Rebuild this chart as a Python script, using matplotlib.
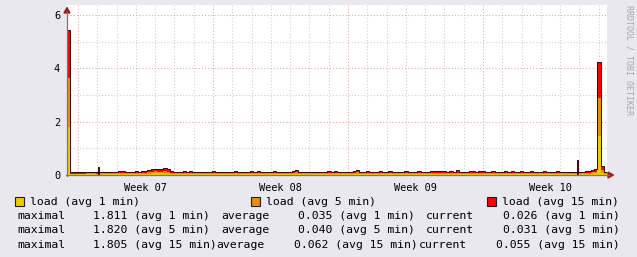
import numpy as np
import matplotlib
matplotlib.use('Agg')
import matplotlib.pyplot as plt
from matplotlib.patches import Polygon, Rectangle
from matplotlib.lines import Line2D

# ---------------- data (values in 1/100 load units, 4-hour samples) ----------------
start_day = -0.57          # first sample, in days relative to start of Week 07
step_hours = 4
load_1min = [181.1,2,2,2,2,2,3,3,3,2,
             3,3,3,3,3,3,4,4,3,3,
             3,4,3,4,4,5,6,7,6,6,
             7,6,4,3,3,3,3,3,4,3,
             3,3,3,3,3,3,3,3,3,3,
             3,3,4,3,3,3,3,4,3,4,
             3,3,3,3,4,3,3,3,3,3,
             4,5,3,3,3,3,3,3,3,3,
             3,4,3,4,3,3,3,3,3,4,
             5,3,3,4,3,3,3,4,3,3,
             4,3,3,3,3,4,3,3,3,4,
             3,3,3,4,3,4,3,4,3,4,
             3,4,3,3,3,4,4,3,3,4,
             3,3,4,3,3,3,4,3,4,3,
             3,4,3,3,4,3,3,3,4,3,
             3,3,4,3,3,3,3,3,3,3,
             3,4,4,5,6,145,9,3]
load_5min = [182.0,3,3,3,3,3,3,3,4,3,
             3,4,4,4,3,3,4,4,3,4,
             4,4,3,4,5,6,7,7,7,7,
             8,7,5,4,4,4,4,4,4,4,
             4,3,4,4,4,4,4,4,3,4,
             3,3,4,4,3,4,4,4,3,5,
             4,3,3,3,4,3,3,4,3,3,
             5,5,4,3,3,3,3,4,3,3,
             3,4,3,4,4,3,3,3,3,4,
             6,4,3,5,3,3,3,4,3,4,
             5,3,3,3,4,5,3,4,3,4,
             3,3,4,4,4,4,4,5,4,4,
             4,5,4,3,4,4,5,4,4,4,
             4,3,4,4,3,3,4,3,5,4,
             3,4,4,3,4,4,3,4,4,4,
             3,4,4,3,4,3,4,3,4,3,
             4,4,5,5,7,142,11,3]
load_15min = [180.5,5,5,5,5,5,5,5,6,5,
              5,6,6,6,6,6,6,6,5,6,
              6,7,6,6,7,8,9,10,10,9,
              11,10,7,6,6,6,7,6,6,6,
              6,6,6,6,6,7,6,6,5,6,
              6,6,6,6,5,6,6,7,6,7,
              6,5,5,5,6,6,6,5,5,6,
              7,8,6,5,5,5,6,6,5,5,
              5,6,5,7,6,5,5,6,5,7,
              9,6,5,7,5,5,5,7,5,6,
              7,5,5,5,6,7,5,6,5,6,
              5,6,6,6,7,6,7,7,6,7,
              6,8,6,6,6,7,7,6,7,6,
              6,6,7,6,5,6,6,5,7,6,
              6,7,6,5,6,6,5,6,7,6,
              5,6,6,6,6,5,6,6,6,5,
              6,6,7,8,10,136,13,6]
peak_days = [1.09, 25.93]
peak_values = [0.30, 0.56]

week_labels = ['Week 07', 'Week 08', 'Week 09', 'Week 10']
series_names = ['load (avg 1 min)', 'load (avg 5 min)', 'load (avg 15 min)']
maximal = ['1.811', '1.820', '1.805']
average = ['0.035', '0.040', '0.062']
current = ['0.026', '0.031', '0.055']
avg_labels = ['(avg 1 min)', '(avg 5 min)', '(avg 15 min)']

# ---------------- styles ----------------
BG = '#E8E8EE'
C_Y, C_O, C_R = '#EACC00', '#EA8F00', '#FF0000'
C_LINE = '#4A0000'
GRID = '#CCCCCC'
MGRID = '#E8A4A4'
AXIS = '#777777'
ARROW = '#A02020'
MONO = 'DejaVu Sans Mono'

W, H = 637, 257
fig = plt.figure(figsize=(W / 100, H / 100), dpi=100)
fig.patch.set_facecolor(BG)

def fx(x):
    return x / W

def fy(y):
    return 1 - y / H

ax = fig.add_axes([fx(67), fy(175), (607 - 67) / W, (175 - 5) / H])
ax.set_facecolor('white')

y1 = np.array(load_1min) / 100
y5 = np.array(load_5min) / 100
y15 = np.array(load_15min) / 100
n = len(y1)
edges = start_day + np.arange(n + 1) * step_hours / 24.0
s1 = y1
s2 = y1 + y5
s3 = y1 + y5 + y15

ax.set_xlim(start_day, start_day + 28)
ax.set_ylim(0, 6.375)

ax.set_xticks(np.arange(0, 28, 7))
ax.set_xticks(np.arange(0, 28, 1), minor=True)
ax.set_yticks([0, 2, 4, 6])
ax.set_yticks([1, 3, 5], minor=True)
ax.set_axisbelow(True)
ax.grid(True, which='minor', color=GRID, linestyle=(0, (1, 2)), linewidth=0.75)
ax.grid(True, which='major', color=MGRID, linestyle=(0, (1, 2)), linewidth=0.75)
ax.tick_params(which='both', length=0)
ax.tick_params(axis='x', labelbottom=False)
ax.tick_params(axis='y', pad=5, labelsize=7.4)
for lab in ax.get_yticklabels():
    lab.set_fontfamily(MONO)
for sp in ax.spines.values():
    sp.set_visible(False)

ax.stairs(s3, edges, baseline=0, fill=True, color=C_R, linewidth=0, zorder=2)
ax.stairs(s2, edges, baseline=0, fill=True, color=C_O, linewidth=0, zorder=2.1)
ax.stairs(s1, edges, baseline=0, fill=True, color=C_Y, linewidth=0, zorder=2.2)
ax.stairs(s3, edges, baseline=None, color=C_LINE, linewidth=0.7, zorder=3)
ax.vlines(peak_days, 0, peak_values, color=C_LINE, linewidth=1.4, zorder=3)

# week labels centred in each week
for k, lab in enumerate(week_labels):
    ax.text(k * 7 + 3.5, -0.3, lab, transform=ax.transData, ha='center', va='top',
            fontsize=7.4, family=MONO, clip_on=False)

# axis lines and arrows
fig.add_artist(Line2D([fx(67), fx(67)], [fy(176), fy(12)], color=AXIS, linewidth=0.9))
fig.add_artist(Line2D([fx(66), fx(609)], [fy(175), fy(175)], color=AXIS, linewidth=0.9))
fig.add_artist(Polygon([[fx(64), fy(13)], [fx(70), fy(13)], [fx(67), fy(7.5)]],
                       closed=True, color=ARROW, transform=fig.transFigure))
fig.add_artist(Polygon([[fx(608), fy(172)], [fx(608), fy(178)], [fx(613.5), fy(175)]],
                       closed=True, color=ARROW, transform=fig.transFigure))

# watermark
fig.text(fx(628.5), fy(5), 'RRDTOOL / TOBI OETIKER', rotation=270, ha='center', va='top',
         fontsize=6.0, family=MONO, color='#A8A8A8')

# legend
FS = 8.25
box_x = [15, 251, 487]
txt_x = [30, 266, 502]
for bx, tx, col, name in zip(box_x, txt_x, [C_Y, C_O, C_R], series_names):
    fig.add_artist(Rectangle((fx(bx), fy(205.5)), 9 / W, 9 / H, transform=fig.transFigure,
                             facecolor=col, edgecolor='#202020', linewidth=0.8))
    fig.text(fx(tx), fy(205), name, ha='left', va='baseline', fontsize=FS, family=MONO)

rows_y = [219, 233, 247.5]
for r in range(3):
    yy = fy(rows_y[r])
    last = (r == 2)
    fig.text(fx(17), yy, 'maximal', ha='left', va='baseline', fontsize=FS, family=MONO)
    fig.text(fx(93), yy, f'{maximal[r]} {avg_labels[r]}', ha='left', va='baseline', fontsize=FS, family=MONO)
    fig.text(fx(216.7 if last else 221.7), yy, 'average', ha='left', va='baseline', fontsize=FS, family=MONO)
    fig.text(fx(294.3 if last else 298), yy, f'{average[r]} {avg_labels[r]}', ha='left', va='baseline', fontsize=FS, family=MONO)
    fig.text(fx(419 if last else 425.7), yy, 'current', ha='left', va='baseline', fontsize=FS, family=MONO)
    fig.text(fx(495.7 if last else 502.7), yy, f'{current[r]} {avg_labels[r]}', ha='left', va='baseline', fontsize=FS, family=MONO)

fig.savefig('out.png', dpi=100, facecolor=BG)
